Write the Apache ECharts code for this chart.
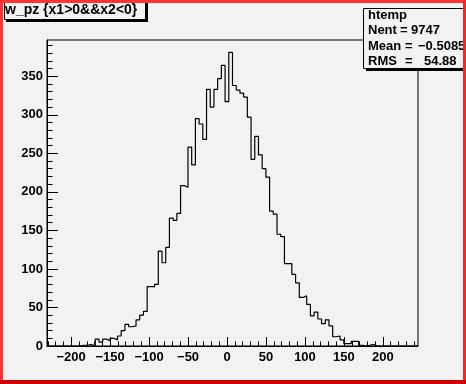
<!DOCTYPE html>
<html><head><meta charset="utf-8">
<script src="https://cdn.jsdelivr.net/npm/echarts@6/dist/echarts.min.js"></script>
<style>html,body{margin:0;padding:0;background:#f2f2f2}#c{width:466px;height:384px}</style>
</head><body><div id="c"></div>
<script>
// ---- data ----
const xMin = -231, xMax = 245, nBins = 100;
const binCounts = [
  0,0,0,0,0,0,0,0,0,1,
  1,2,0,9,5,9,7,10,8,13,
  20,28,25,26,34,40,45,77,77,80,
  123,108,128,166,163,172,208,206,258,235,
  295,288,268,333,310,333,347,364,317,381,
  338,332,328,323,297,242,272,248,230,219,
  175,171,145,142,107,107,93,82,63,65,
  54,39,44,35,29,34,26,12,13,8,
  3,3,6,6,1,0,1,2,0,0,
  0,0,0,0,0,0,0,0,0,0
];
const xMajorTicks = [-200,-150,-100,-50,0,50,100,150,200];
const yMajorTicks = [0,50,100,150,200,250,300,350];
const yMax = 397;
const titleText = 'w_pz {x1>0&&x2<0}';
const statsName = 'htemp';
const statsLabels = ['Nent', 'Mean', 'RMS'];
const statsValues = ['9747', '\u22120.5085', '54.88'];

// ---- build ----
const binW = (xMax - xMin) / nBins;
const pts = binCounts.map((v, i) => [xMin + i * binW, v]);
pts.push([xMax, binCounts[nBins - 1]]);
const xMinor = []; for (let v = -230; v <= 240; v += 10) xMinor.push(v);
const yMinor = []; for (let v = 0; v <= 390; v += 10) yMinor.push(v);
const FONT = 'Liberation Sans';
const fmt = v => v < 0 ? '\u2212' + (-v) : String(v);
const lab = {color:'#000', fontFamily:FONT, fontSize:13, fontWeight:'bold'};

function xAx(major) {
  return {
    type:'value', min:xMin, max:xMax, position:'bottom',
    axisLine:{show:major, onZero:false, lineStyle:{color:'#000', width:1}},
    axisTick:{show:true, inside:true, length: major ? 9 : 4.6, customValues: major ? xMajorTicks : xMinor, lineStyle:{color:'#000', width:1}},
    axisLabel: major ? Object.assign({customValues:xMajorTicks, formatter:fmt, margin:5}, lab) : {show:false},
    splitLine:{show:false}
  };
}
function yAx(major) {
  return {
    type:'value', min:0, max:yMax, position:'left',
    axisLine:{show:major, onZero:false, lineStyle:{color:'#000', width:1}},
    axisTick:{show:true, inside:true, length: major ? 11 : 5.6, customValues: major ? yMajorTicks : yMinor, lineStyle:{color:'#000', width:1}},
    axisLabel: major ? Object.assign({customValues:yMajorTicks, formatter:fmt, margin:4}, lab) : {show:false},
    splitLine:{show:false}
  };
}

const SF = 'bold 13px "Liberation Sans"';
const statsTexts = [
  {type:'text', left:368, top:9, style:{text:statsName, fill:'#000', font:SF}, z:20}
];
const rowY = [24, 39.5, 55];
const eqX = [400, 405, 405];
const valX = [411, 418, 424];
statsLabels.forEach((l, i) => {
  statsTexts.push({type:'text', left:368, top:rowY[i], style:{text:l, fill:'#000', font:SF}, z:20});
  statsTexts.push({type:'text', left:eqX[i], top:rowY[i], style:{text:'=', fill:'#000', font:SF}, z:20});
  statsTexts.push({type:'text', left:valX[i], top:rowY[i], style:{text:statsValues[i], fill:'#000', font:SF}, z:20});
});

const chart = echarts.init(document.getElementById('c'), null, {renderer:'canvas'});
chart.setOption({
  animation:false,
  backgroundColor:'#f2f2f2',
  grid:{left:47, right:48, top:40, bottom:38, show:true, borderColor:'#000', borderWidth:1, backgroundColor:'transparent'},
  xAxis:[xAx(true), xAx(false)],
  yAxis:[yAx(true), yAx(false)],
  series:[{
    type:'line', xAxisIndex:0, yAxisIndex:0, data:pts, step:'end', symbol:'none',
    lineStyle:{color:'#000', width:1.2}, clip:true, z:3
  }],
  graphic:[
    // title box
    {type:'rect', shape:{x:6, y:0, width:142, height:22}, style:{fill:'#000'}, z:10},
    {type:'rect', shape:{x:4.5, y:-3, width:141, height:22.5}, style:{fill:'#f2f2f2', stroke:'#000', lineWidth:1}, z:11},
    {type:'text', left:5, top:3, style:{text:titleText, fill:'#000', font:'bold 14px "Liberation Sans"'}, z:12},
    // stats box
    {type:'rect', shape:{x:366, y:11, width:120, height:60}, style:{fill:'#000'}, z:10},
    {type:'rect', shape:{x:363.5, y:8.5, width:120, height:60}, style:{fill:'#f2f2f2', stroke:'#000', lineWidth:1}, z:11},
    ...statsTexts,
    // canvas border
    {type:'rect', shape:{x:0, y:0, width:466, height:3}, style:{fill:'#ff3333'}, z:30},
    {type:'rect', shape:{x:0, y:0, width:3, height:384}, style:{fill:'#ff3333'}, z:30},
    {type:'rect', shape:{x:463, y:0, width:3, height:384}, style:{fill:'#ee2a2a'}, z:30},
    {type:'rect', shape:{x:0, y:380, width:466, height:4}, style:{fill:'#cc0000'}, z:31}
  ]
});
</script></body></html>
